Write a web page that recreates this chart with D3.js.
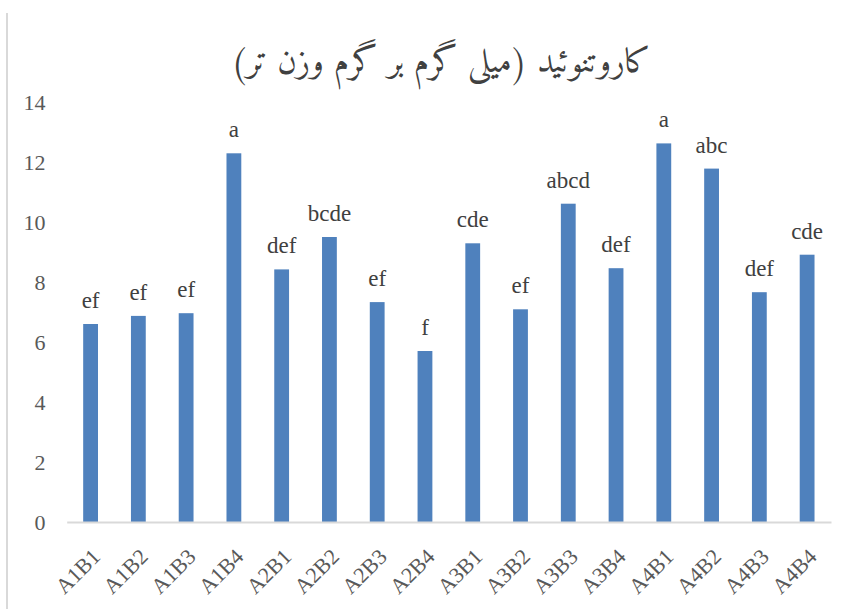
<!DOCTYPE html>
<html>
<head>
<meta charset="utf-8">
<script src="https://cdn.jsdelivr.net/npm/d3@7/dist/d3.min.js"></script>
<style>
  html, body { margin: 0; padding: 0; background: #fff; }
  svg { display: block; }
</style>
</head>
<body>
<script>
const categories = ["A1B1","A1B2","A1B3","A1B4","A2B1","A2B2","A2B3","A2B4","A3B1","A3B2","A3B3","A3B4","A4B1","A4B2","A4B3","A4B4"];
const values = [6.6, 6.87, 6.96, 12.29, 8.42, 9.5, 7.33, 5.7, 9.29, 7.09, 10.61, 8.46, 12.62, 11.78, 7.66, 8.91];
const letters = ["ef","ef","ef","a","def","bcde","ef","f","cde","ef","abcd","def","a","abc","def","cde"];
const yTicks = [0, 2, 4, 6, 8, 10, 12, 14];
const title = "کاروتنوئید (میلی گرم بر گرم وزن تر)";

const W = 856, H = 609;
const SERIF = '"Liberation Serif", "Times New Roman", serif';
const svg = d3.select("body").append("svg").attr("width", W).attr("height", H);

// chart border (only left edge visible)
svg.append("line").attr("x1", 7).attr("x2", 7).attr("y1", 13).attr("y2", H)
  .attr("stroke", "#d9d9d9").attr("stroke-width", 2);

const x = d3.scaleBand().domain(categories).range([66.7, 831]).paddingInner(0.69).paddingOuter(0.345);
const y = d3.scaleLinear().domain([0, 14]).range([522, 102]);

// y axis labels
const yAxis = d3.axisLeft(y).tickValues(yTicks).tickSize(0).tickPadding(0);
const gy = svg.append("g").attr("transform", "translate(45.5,0)").call(yAxis);
gy.select(".domain").remove();
gy.selectAll("text")
  .style("font-family", SERIF).style("font-size", "22px")
  .attr("fill", "#595959").attr("dy", "0.34em");

// bars
svg.append("g").selectAll("rect").data(categories).join("rect")
  .attr("x", d => x(d))
  .attr("width", x.bandwidth())
  .attr("y", (d, i) => y(values[i]))
  .attr("height", (d, i) => y(0) - y(values[i]))
  .attr("fill", "#4f81bd");

// x axis
const xAxis = d3.axisBottom(x).tickSize(0).tickPadding(0);
const gx = svg.append("g").attr("transform", `translate(0,${y(0)})`).call(xAxis);
gx.select(".domain").attr("stroke", "#d9d9d9").attr("stroke-width", 2);
gx.selectAll("text")
  .style("font-family", SERIF).style("font-size", "22px")
  .attr("fill", "#595959")
  .attr("text-anchor", "end")
  .attr("dy", null).attr("y", 0)
  .attr("transform", "translate(11,36) rotate(-45)");

// value letters
svg.append("g").selectAll("text").data(categories).join("text")
  .attr("x", d => x(d) + x.bandwidth() / 2)
  .attr("y", (d, i) => y(values[i]) - 16)
  .attr("text-anchor", "middle")
  .style("font-family", SERIF).style("font-size", "23px")
  .attr("fill", "#404040")
  .text((d, i) => letters[i]);

// title
svg.append("text").attr("x", 441).attr("y", 72).attr("text-anchor", "middle")
  .attr("direction", "rtl")
  .style("font-family", '"Amiri", "DejaVu Sans", sans-serif')
  .style("font-size", "34px").attr("fill", "#404040")
  .text(title);
</script>
</body>
</html>
